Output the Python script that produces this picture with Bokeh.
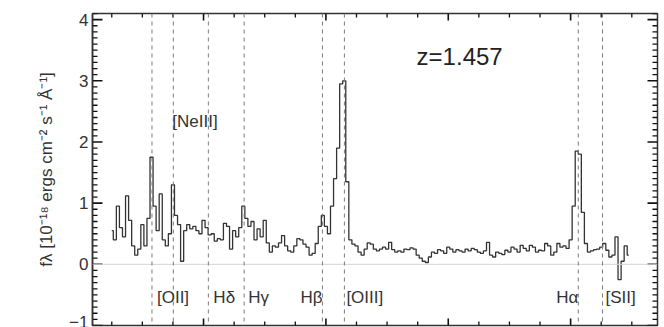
import numpy as np
from bokeh.plotting import figure
from bokeh.models import Range1d, LinearAxis, Span, SingleIntervalTicker, Label
from bokeh.embed import file_html
from bokeh.resources import INLINE

# Redshift of the source and the observed-frame spectrum (Å, 10^-18 erg/cm2/s/Å)
z = 1.457
wave_start = 8500.0   # centre of the first bin, observed Å
wave_step = 50.0      # bin width, Å
flux = [
    0.55, 0.40, 0.95, 0.60, 0.45, 1.12, 0.72, 0.30, 0.15, 0.25,
    0.65, 0.30, 0.75, 1.75, 0.95, 0.55, 1.15, 0.40, 0.30, 0.50,
    1.30, 0.80, 0.65, 0.05, 0.55, 0.65, 0.58, 0.62, 0.55, 0.50,
    0.72, 0.60, 0.48, 0.50, 0.38, 0.42, 0.40, 0.67, 0.62, 0.25,
    0.55, 0.45, 0.60, 0.95, 0.75, 0.62, 0.70, 0.40, 0.58, 0.45,
    0.72, 0.35, 0.20, 0.30, 0.28, 0.35, 0.47, 0.30, 0.22, 0.20,
    0.30, 0.42, 0.40, 0.33, 0.28, 0.15, 0.18, 0.34, 0.62, 0.80,
    0.62, 0.50, 0.95, 1.40, 1.90, 2.95, 3.00, 1.35, 0.40, 0.33,
    0.30, 0.20, 0.15, 0.25, 0.35, 0.33, 0.25, 0.22, 0.25, 0.28,
    0.25, 0.36, 0.24, 0.20, 0.22, 0.20, 0.25, 0.24, 0.27, 0.25,
    0.15, 0.10, 0.05, 0.03, 0.12, 0.20, 0.18, 0.24, 0.22, 0.18,
    0.28, 0.25, 0.20, 0.24, 0.22, 0.20, 0.25, 0.22, 0.26, 0.24,
    0.20, 0.18, 0.22, 0.36, 0.15, 0.12, 0.20, 0.18, 0.16, 0.23,
    0.20, 0.28, 0.25, 0.20, 0.31, 0.26, 0.22, 0.31, 0.28, 0.20,
    0.23, 0.22, 0.34, 0.30, 0.15, 0.20, 0.34, 0.28, 0.30, 0.26,
    0.40, 0.95, 1.85, 1.80, 0.85, 0.34, 0.20, 0.22, 0.24, 0.25,
    0.28, 0.34, 0.23, 0.12, 0.15, 0.45, -0.25, 0.05, 0.30, 0.15,
]
wave = wave_start + wave_step * np.arange(len(flux))

# Emission lines (rest-frame Å)
line_names = ["[OII]", "[NeIII]", "Hδ", "Hγ", "Hβ", "[OIII]", "Hα", "[SII]"]
line_rest = [3727, 3869, 4102, 4340, 4861, 5007, 6563, 6724]
line_obs = [w * (1 + z) for w in line_rest]

# where each line name sits: (row, alignment, pixel offset from the line)
label_layout = {
    "[OII]": ("low", "left", 5),
    "[NeIII]": ("high", "left", -1),
    "Hδ": ("low", "left", 5),
    "Hγ": ("low", "left", 4),
    "Hβ": ("low", "right", 0),
    "[OIII]": ("low", "left", 2),
    "Hα": ("low", "right", 0),
    "[SII]": ("low", "left", 3),
}
row_y = {"low": -0.54, "high": 2.34}

FONT = "Liberation Sans"
INK = "#333333"
TICK = "#111111"
X0, X1 = 8185, 17420
Y0, Y1 = -1.0, 4.1
W, H = 664, 327
BL, BR, BT, BB = 92, 7, 13, 2

p = figure(
    width=W, height=H,
    x_range=Range1d(X0, X1), y_range=Range1d(Y0, Y1),
    output_backend="svg", toolbar_location=None,
    min_border_left=BL, min_border_right=BR, min_border_top=BT, min_border_bottom=BB,
)
p.grid.visible = False
p.xaxis.visible = False
p.yaxis.visible = False
p.outline_line_color = INK
p.outline_line_width = 1.5
p.background_fill_color = "white"
p.border_fill_color = "white"

# left axis carries the numbers; its tick marks are drawn inside the frame below
y_left = LinearAxis(ticker=SingleIntervalTicker(interval=1, num_minor_ticks=10))
y_left.major_tick_in = 0
y_left.major_tick_out = 0
y_left.minor_tick_in = 0
y_left.minor_tick_out = 0
y_left.axis_line_color = INK
y_left.axis_line_width = 1.5
y_left.major_label_text_font = FONT
y_left.major_label_text_font_size = "17px"
y_left.major_label_text_color = INK
y_left.major_label_standoff = 4
y_left.axis_label = "fλ [10⁻¹⁸ ergs cm⁻² s⁻¹ Å⁻¹]"
y_left.axis_label_text_font = FONT
y_left.axis_label_text_font_size = "17px"
y_left.axis_label_text_font_style = "normal"
y_left.axis_label_text_color = INK
y_left.axis_label_standoff = 10
p.add_layout(y_left, "left")

# inward tick marks on all four sides of the frame (lengths given in pixels)
y_major = np.arange(-1, 5, 1.0)
y_minor = np.array([v for v in np.round(np.arange(-1, 4.11, 0.1), 2) if abs(v - round(v)) > 1e-6])
x_major = np.arange(10000, 17001, 2000.0)
x_minor = np.array([v for v in np.arange(8500, 17401, 500.0) if v % 2000 != 0])
dx_px = (X1 - X0) / (W - BL - BR)   # data units per pixel, horizontally
dy_px = (Y1 - Y0) / (H - BT - BB)   # data units per pixel, vertically


def yticks(ys, length, width):
    n = len(ys)
    p.segment(x0=[X0] * n, y0=list(ys), x1=[X0 + length * dx_px] * n, y1=list(ys),
              line_color=TICK, line_width=width)
    p.segment(x0=[X1] * n, y0=list(ys), x1=[X1 - length * dx_px] * n, y1=list(ys),
              line_color=TICK, line_width=width)


def xticks(xs, length, width):
    n = len(xs)
    p.segment(x0=list(xs), y0=[Y1] * n, x1=list(xs), y1=[Y1 - length * dy_px] * n,
              line_color=TICK, line_width=width)
    p.segment(x0=list(xs), y0=[Y0] * n, x1=list(xs), y1=[Y0 + length * dy_px] * n,
              line_color=TICK, line_width=width)


yticks(y_major, 10, 1.6)
yticks(y_minor, 5, 1.3)
xticks(x_major, 7, 1.6)
xticks(x_minor, 4, 1.3)

# zero level
p.add_layout(Span(location=0, dimension="width", line_color="#d4d4d4", line_width=1))

# expected line positions at this redshift
for w in line_obs:
    p.add_layout(Span(location=w, dimension="height", line_color="#7a7a7a",
                      line_width=1, line_dash="4 4"))

# the spectrum
p.step(wave, flux, mode="center", line_color=INK, line_width=1.3)

for name, w in zip(line_names, line_obs):
    row, align, dx = label_layout[name]
    p.add_layout(Label(x=w, y=row_y[row], text=name, text_align=align,
                       x_offset=dx, text_baseline="middle", text_font=FONT,
                       text_font_size="17px", text_color=INK))

p.add_layout(Label(x=14186, y=3.40, text="z=1.457", text_align="center",
                   text_baseline="middle", text_font=FONT, text_font_size="24px",
                   text_color="#222222"))

open("out.html", "w").write(file_html(p, INLINE))
